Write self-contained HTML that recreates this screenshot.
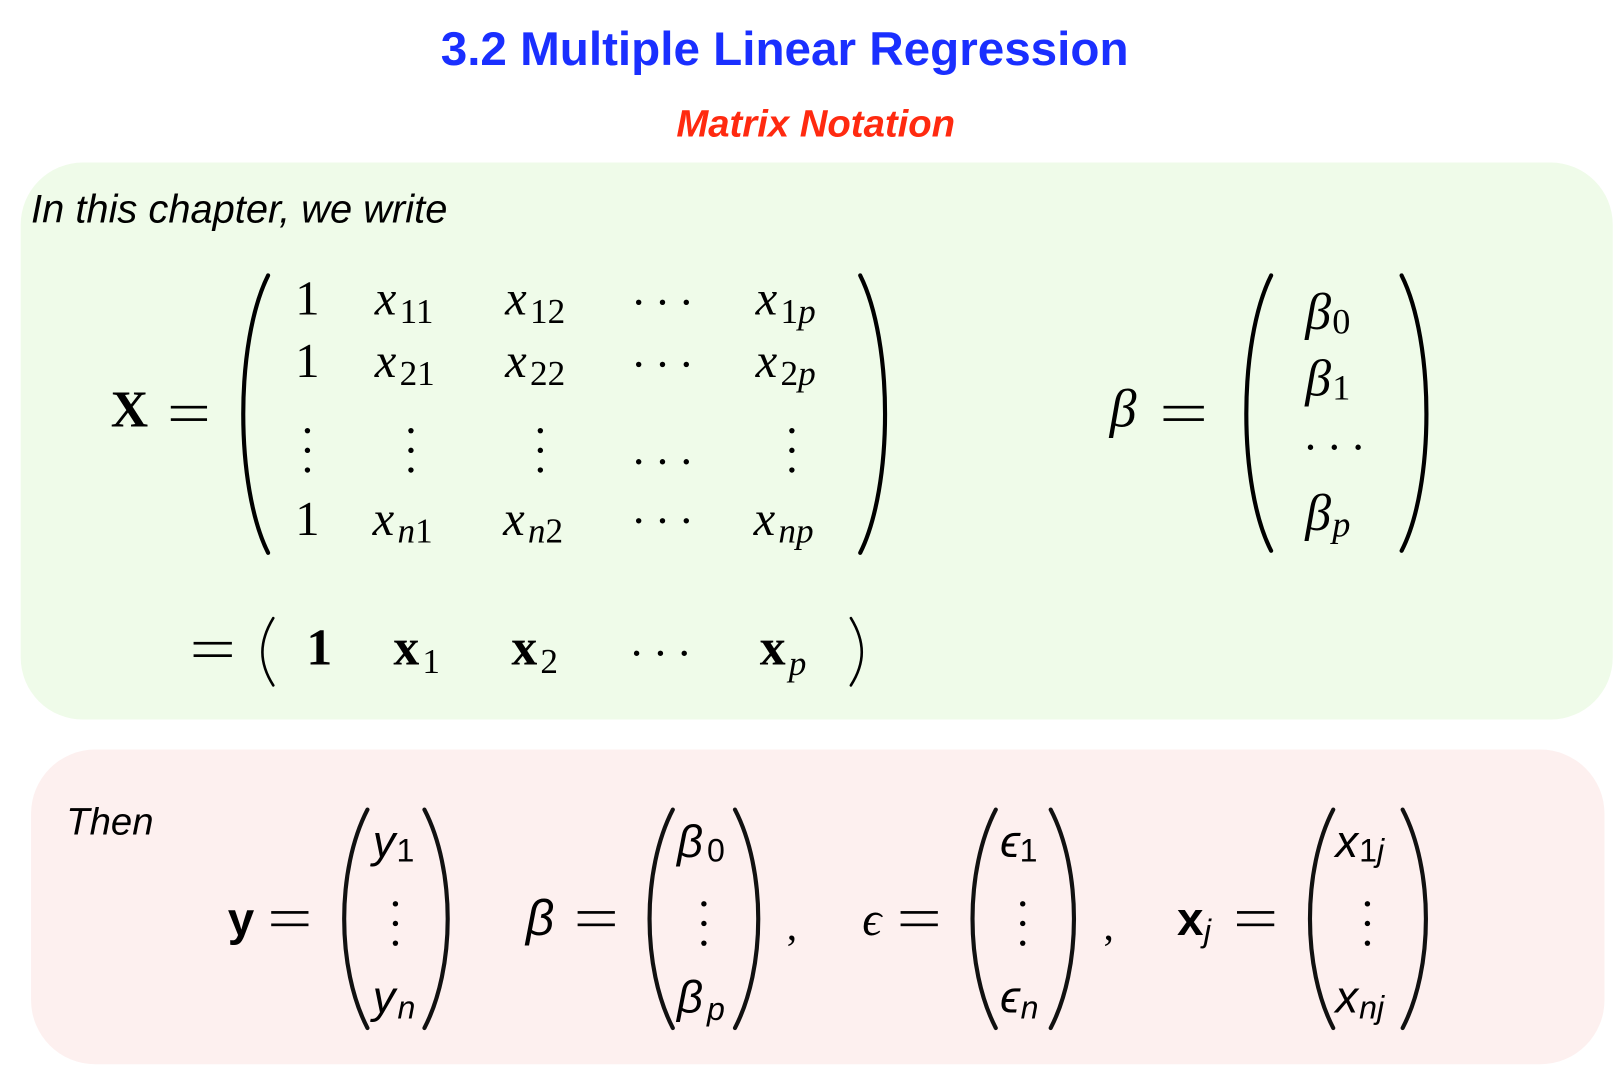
<!DOCTYPE html>
<html><head><meta charset="utf-8"><style>
html,body{margin:0;padding:0;background:#fff;}
svg{display:block;}
.s{font-family:"Liberation Serif",serif;}
.si{font-family:"Liberation Serif",serif;font-style:italic;}
.a{font-family:"Liberation Sans",sans-serif;}
.ai{font-family:"Liberation Sans",sans-serif;font-style:italic;}
</style></head><body>
<svg width="1620" height="1085" viewBox="0 0 1565 1048" preserveAspectRatio="none" xmlns="http://www.w3.org/2000/svg">
<rect x="20" y="157" width="1538" height="538" rx="60" fill="#effbe9"/>
<rect x="30" y="724" width="1520" height="304" rx="62" fill="#fdf0ef"/>
<text x="758" y="63" text-anchor="middle" class="a" font-weight="bold" font-size="46" fill="#1a2fff">3.2 Multiple Linear Regression</text>
<text x="788" y="132" text-anchor="middle" class="a" font-weight="bold" font-style="italic" font-size="37" fill="#ff2a10">Matrix Notation</text>
<text x="30" y="215" class="ai" font-size="38.5" fill="#000">In this chapter, we write</text>

<g fill="#000">
<text x="107" y="412" class="s" font-weight="bold" font-size="50">X</text>
<!-- equals signs -->
<g>
<rect x="165" y="392" width="35" height="2.6"/><rect x="165" y="404" width="35" height="2.6"/>
<rect x="1124" y="392" width="39" height="2.6"/><rect x="1124" y="404" width="39" height="2.6"/>
<rect x="187" y="620" width="37" height="2.6"/><rect x="187" y="632" width="37" height="2.6"/>
<rect x="262" y="880" width="36" height="2.6"/><rect x="262" y="892" width="36" height="2.6"/>
<rect x="558" y="880" width="36" height="2.6"/><rect x="558" y="892" width="36" height="2.6"/>
<rect x="870" y="880" width="36" height="2.6"/><rect x="870" y="892" width="36" height="2.6"/>
<rect x="1195" y="880" width="36" height="2.6"/><rect x="1195" y="892" width="36" height="2.6"/>
</g>
<!-- big parens -->
<g fill="none" stroke="#000" stroke-width="4" stroke-linecap="round">
<path d="M259 266 C227 330 227 470 259 534"/>
<path d="M831 266 C863 330 863 470 831 534"/>
<path d="M1228 266 C1196 330 1196 470 1228 532"/>
<path d="M1354 266 C1386 330 1386 470 1354 532"/>
<path d="M264 597 C250 620 250 640 264 662" stroke-width="2.5"/>
<path d="M822 597 C836 620 836 640 822 662" stroke-width="2.5"/>
</g>
<g class="s" font-size="47">
<text x="297" y="304" text-anchor="middle">1</text>
<text x="297" y="364" text-anchor="middle">1</text>
<text x="297" y="517" text-anchor="middle">1</text>
</g>
<g class="si" font-size="47">
<text x="362" y="304">x</text><text x="488" y="304">x</text><text x="730" y="304">x</text>
<text x="362" y="364">x</text><text x="488" y="364">x</text><text x="730" y="364">x</text>
<text x="360" y="517">x</text><text x="486" y="517">x</text><text x="728" y="517">x</text>
</g>
<g class="s" font-size="34">
<text x="386" y="312">11</text><text x="512" y="312">12</text><text x="754" y="312">1<tspan font-style="italic">p</tspan></text>
<text x="386" y="372">21</text><text x="512" y="372">22</text><text x="754" y="372">2<tspan font-style="italic">p</tspan></text>
<text x="384" y="524"><tspan font-style="italic">n</tspan>1</text><text x="510" y="524"><tspan font-style="italic">n</tspan>2</text><text x="752" y="524" font-style="italic">np</text>
</g>
<!-- dots -->
<g>
<circle cx="617" cy="292" r="2.6"/><circle cx="640" cy="292" r="2.6"/><circle cx="663" cy="292" r="2.6"/>
<circle cx="617" cy="352" r="2.6"/><circle cx="640" cy="352" r="2.6"/><circle cx="663" cy="352" r="2.6"/>
<circle cx="617" cy="503" r="2.6"/><circle cx="640" cy="503" r="2.6"/><circle cx="663" cy="503" r="2.6"/>
<circle cx="617" cy="446" r="2.6"/><circle cx="640" cy="446" r="2.6"/><circle cx="663" cy="446" r="2.6"/>
<circle cx="297" cy="416" r="2.6"/><circle cx="297" cy="435" r="2.6"/><circle cx="297" cy="454" r="2.6"/>
<circle cx="397" cy="416" r="2.6"/><circle cx="397" cy="435" r="2.6"/><circle cx="397" cy="454" r="2.6"/>
<circle cx="522" cy="416" r="2.6"/><circle cx="522" cy="435" r="2.6"/><circle cx="522" cy="454" r="2.6"/>
<circle cx="765" cy="416" r="2.6"/><circle cx="765" cy="435" r="2.6"/><circle cx="765" cy="454" r="2.6"/>
<circle cx="1266" cy="432" r="2.6"/><circle cx="1289" cy="432" r="2.6"/><circle cx="1312" cy="432" r="2.6"/>
<circle cx="615" cy="631" r="2.6"/><circle cx="638" cy="631" r="2.6"/><circle cx="661" cy="631" r="2.6"/>
</g>
<!-- beta vector -->
<text x="1072" y="412" class="si" font-size="52">β</text>
<g class="si" font-size="50">
<text x="1261" y="318">β</text><text x="1261" y="382">β</text><text x="1261" y="512">β</text>
</g>
<g class="s" font-size="35">
<text x="1287" y="322">0</text><text x="1287" y="386">1</text><text x="1287" y="518" font-style="italic">p</text>
</g>
<!-- second line -->
<g class="s" font-weight="bold" font-size="50">
<text x="296" y="642">1</text>
<text x="380" y="642">x</text><text x="494" y="642">x</text><text x="734" y="642">x</text>
</g>
<g class="s" font-size="34">
<text x="408" y="650">1</text><text x="522" y="650">2</text><text x="762" y="652" font-style="italic">p</text>
</g>

<!-- pink section -->
<text x="64" y="806" class="ai" font-size="37">Then</text>
<g fill="none" stroke="#111" stroke-width="4" stroke-linecap="round">
<path d="M355 782 C325 840 325 935 355 993"/><path d="M410 782 C440 840 440 935 410 993"/>
<path d="M650 782 C620 840 620 935 650 993"/><path d="M710 782 C740 840 740 935 710 993"/>
<path d="M962 782 C932 840 932 935 962 993"/><path d="M1015 782 C1045 840 1045 935 1015 993"/>
<path d="M1288 782 C1258 840 1258 935 1288 993"/><path d="M1355 782 C1385 840 1385 935 1355 993"/>
</g>
<text x="220" y="903" class="a" font-weight="bold" font-size="46">y</text>
<text x="508" y="903" class="ai" font-size="48">β</text>
<text x="760" y="908" class="s" font-size="40">,</text>
<text x="833" y="903" class="si" font-size="46">ϵ</text>
<text x="1066" y="908" class="s" font-size="40">,</text>
<text x="1137" y="903" class="a" font-weight="bold" font-size="46">x</text>
<text x="1163" y="910" class="ai" font-size="31">j</text>
<g class="ai" font-size="44">
<text x="360" y="828">y</text><text x="360" y="978">y</text>
<text x="654" y="828">β</text><text x="654" y="978">β</text>
<text x="966" y="828">ϵ</text><text x="966" y="978">ϵ</text>
<text x="1290" y="828">x</text><text x="1290" y="978">x</text>
</g>
<g class="a" font-size="31">
<text x="383" y="832">1</text><text x="384" y="984" font-style="italic">n</text>
<text x="683" y="832">0</text><text x="683" y="985" font-style="italic">p</text>
<text x="985" y="832">1</text><text x="986" y="984" font-style="italic">n</text>
<text x="1313" y="832">1<tspan font-style="italic">j</tspan></text><text x="1313" y="984" font-style="italic">nj</text>
</g>
<g>
<circle cx="382" cy="873" r="2.6"/><circle cx="382" cy="892" r="2.6"/><circle cx="382" cy="911" r="2.6"/>
<circle cx="680" cy="873" r="2.6"/><circle cx="680" cy="892" r="2.6"/><circle cx="680" cy="911" r="2.6"/>
<circle cx="988" cy="873" r="2.6"/><circle cx="988" cy="892" r="2.6"/><circle cx="988" cy="911" r="2.6"/>
<circle cx="1321" cy="873" r="2.6"/><circle cx="1321" cy="892" r="2.6"/><circle cx="1321" cy="911" r="2.6"/>
</g>
</g>
</svg>
</body></html>
